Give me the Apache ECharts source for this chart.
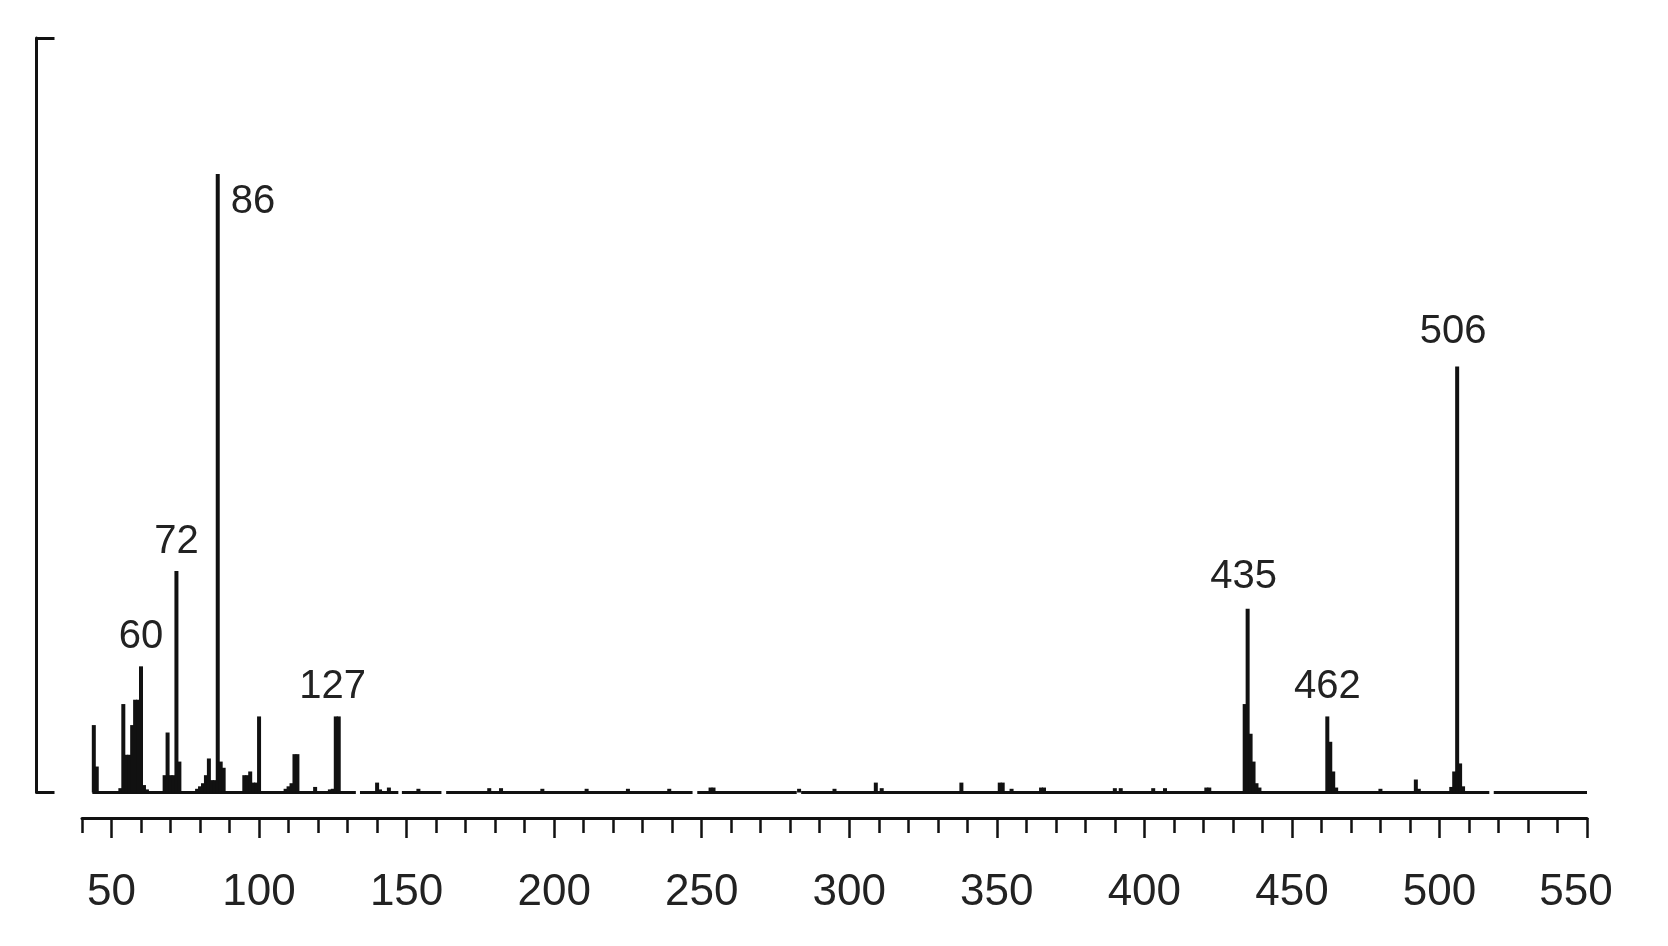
<!DOCTYPE html>
<html>
<head>
<meta charset="utf-8">
<title>Mass spectrum</title>
<script src="https://cdn.jsdelivr.net/npm/echarts@6/dist/echarts.min.js"></script>
<style>
  html, body { margin: 0; padding: 0; background: #fff; }
  #chart { width: 1668px; height: 946px; }
</style>
</head>
<body>
<div id="chart"></div>
<script>
// m/z of every stick and its relative intensity (base peak 86 = 100)
const mzValues = [
  44, 45, 53, 54, 55, 56, 57, 58, 59, 60, 61, 62,
  68, 69, 70, 71, 72, 73, 79, 80, 81, 82, 83, 84, 85, 86, 87, 88,
  95, 96, 97, 98, 99, 100, 109, 110, 111, 112, 113, 119, 124, 125, 126, 127,
  140, 141, 144, 154, 178, 182, 196, 211, 225, 239, 253, 254, 283, 295,
  309, 311, 338, 351, 352, 355, 365, 366, 390, 392, 403, 407, 421, 422,
  434, 435, 436, 437, 438, 439, 462, 463, 464, 465, 480, 492, 493,
  504, 505, 506, 507, 508
];
const intensities = [
  10.9, 4.2, 0.7, 14.3, 6.1, 6.1, 10.9, 15.0, 15.0, 20.4, 1.2, 0.5,
  2.8, 9.7, 2.8, 2.8, 35.8, 5.0, 0.6, 1.0, 1.5, 2.8, 5.5, 2.0, 2.0, 100, 5.0, 4.0,
  2.8, 2.8, 3.4, 1.6, 1.6, 12.3, 0.6, 1.0, 1.5, 6.2, 6.2, 0.9, 0.5, 0.6, 12.3, 12.3,
  1.6, 0.5, 0.8, 0.6, 0.7, 0.7, 0.6, 0.6, 0.6, 0.6, 0.8, 0.8, 0.6, 0.6,
  1.6, 0.7, 1.6, 1.6, 1.6, 0.6, 0.8, 0.8, 0.7, 0.7, 0.7, 0.7, 0.8, 0.8,
  14.3, 29.7, 9.5, 5.0, 1.5, 0.8, 12.3, 8.2, 3.4, 0.8, 0.6, 2.1, 0.6,
  0.9, 3.4, 68.9, 4.7, 1.0
];
// peaks that carry their m/z as a label
const labeledPeaks = [60, 72, 86, 127, 435, 462, 506];
// pieces of the drawn baseline (it has small breaks)
const baselineSegments = [
  [43.5, 132.8], [134.2, 147.2], [148.4, 161.8], [163.4, 246.9],
  [248.5, 282.2], [283.7, 516.9], [518.4, 550]
];
const majorTicks = [50, 100, 150, 200, 250, 300, 350, 400, 450, 500, 550];

const FONT = '"Liberation Sans", Arial, Helvetica, sans-serif';
const INK = '#111';

// label placement tweaks, per labelled peak
const labelTweaks = {
  86: { position: [15, 8], align: 'left', verticalAlign: 'top' },
  127: { offset: [-6, 0] },
  435: { offset: [-4, 0], distance: 12 },
  506: { offset: [-4, 0], distance: 14 }
};

const barData = mzValues.map((mz, i) => {
  const item = { value: [mz, intensities[i]] };
  if (labeledPeaks.includes(mz)) {
    item.label = Object.assign({
      show: true,
      position: 'top',
      distance: 9,
      formatter: String(mz),
      fontSize: 40,
      fontFamily: FONT,
      color: '#222'
    }, labelTweaks[mz] || {});
  }
  return item;
});

const chart = echarts.init(document.getElementById('chart'));

chart.setOption({
  animation: false,
  backgroundColor: '#fff',
  grid: { left: 82, right: 81, top: 38, bottom: 153.5 },
  xAxis: [
    {
      type: 'value',
      position: 'bottom',
      min: 40,
      max: 550,
      interval: 10,
      offset: 25.5,
      axisLine: { show: true, onZero: false, lineStyle: { color: INK, width: 3 } },
      axisTick: { show: true, length: 15, lineStyle: { color: INK, width: 2.5 } },
      axisLabel: { show: false },
      splitLine: { show: false }
    },
    {
      type: 'value',
      position: 'bottom',
      min: 40,
      max: 550,
      offset: 25.5,
      axisLine: { show: false, onZero: false },
      axisTick: {
        show: true,
        length: 20,
        customValues: majorTicks,
        lineStyle: { color: INK, width: 2.5 }
      },
      axisLabel: {
        show: true,
        customValues: majorTicks,
        margin: 53,
        fontSize: 44,
        fontFamily: FONT,
        color: '#222',
        formatter: (v) => (v === 550 ? '{r|550}' : String(v)),
        rich: { r: { fontSize: 44, fontFamily: FONT, color: '#222', padding: [0, 22, 0, 0] } }
      },
      splitLine: { show: false }
    }
  ],
  yAxis: {
    type: 'value',
    position: 'left',
    min: 0,
    max: 122,
    interval: 122,
    offset: 45.5,
    axisLine: { show: true, onZero: false, lineStyle: { color: INK, width: 3 } },
    axisTick: { show: true, inside: true, length: 18, lineStyle: { color: INK, width: 3 } },
    axisLabel: { show: false },
    splitLine: { show: false }
  },
  series: [
    {
      name: 'baseline',
      type: 'lines',
      coordinateSystem: 'cartesian2d',
      xAxisIndex: 0,
      yAxisIndex: 0,
      silent: true,
      lineStyle: { color: INK, width: 3, opacity: 1 },
      data: baselineSegments.map((s) => ({ coords: [[s[0], 0], [s[1], 0]] })),
      z: 1
    },
    {
      name: 'spectrum',
      type: 'bar',
      xAxisIndex: 0,
      yAxisIndex: 0,
      barWidth: 4,
      itemStyle: { color: INK },
      data: barData,
      z: 2
    }
  ]
});
</script>
</body>
</html>
